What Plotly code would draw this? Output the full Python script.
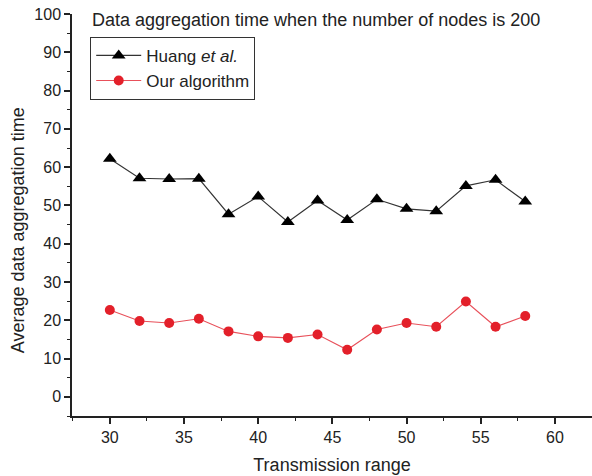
import plotly.graph_objects as go

x_range = [30, 32, 34, 36, 38, 40, 42, 44, 46, 48, 50, 52, 54, 56, 58]
huang = [62.2, 57.1, 56.9, 57.0, 47.7, 52.3, 45.7, 51.3, 46.2, 51.6, 49.1, 48.5, 55.1, 56.7, 51.0]
ours = [22.7, 19.8, 19.3, 20.4, 17.1, 15.8, 15.4, 16.3, 12.3, 17.6, 19.3, 18.3, 24.9, 18.3, 21.1]

fig = go.Figure()
fig.add_trace(go.Scatter(
    x=x_range, y=huang, mode="lines+markers", name="Huang <i>et al.</i>",
    line=dict(color="#333333", width=1.2),
    marker=dict(symbol="triangle-up", size=12, color="#000000"),
))
fig.add_trace(go.Scatter(
    x=x_range, y=ours, mode="lines+markers", name="Our algorithm",
    line=dict(color="#e8505a", width=1.1),
    marker=dict(symbol="circle", size=10, color="#e3202a"),
))

font_family = "Liberation Sans, Arial, sans-serif"
fig.update_layout(
    width=592, height=476,
    margin=dict(l=72, r=0, t=14, b=60),
    plot_bgcolor="white", paper_bgcolor="white",
    font=dict(family=font_family, size=17, color="#222222"),
    showlegend=True,
    legend=dict(
        x=0.035, y=0.943, xanchor="left", yanchor="top",
        bordercolor="#333333", borderwidth=1, bgcolor="white",
        font=dict(size=17, color="#222222"),
        tracegroupgap=0, itemwidth=45,
    ),
    xaxis=dict(
        range=[27.45, 62.5], tickvals=[30, 35, 40, 45, 50, 55, 60],
        ticks="outside", ticklen=6, tickwidth=1.5, tickcolor="#222",
        showline=True, linecolor="#222", linewidth=1.5,
        showgrid=False, zeroline=False,
        tickfont=dict(size=16),
        minor=dict(dtick=2.5, tick0=27.5, ticks="outside", ticklen=3, tickcolor="#222", tickwidth=1.2),
        title=dict(text="Transmission range", font=dict(size=18), standoff=13),
    ),
    yaxis=dict(
        range=[-5, 100], tickvals=[0, 10, 20, 30, 40, 50, 60, 70, 80, 90, 100],
        ticks="outside", ticklen=6, tickwidth=1.5, tickcolor="#222",
        showline=True, linecolor="#222", linewidth=1.5,
        showgrid=False, zeroline=False,
        tickfont=dict(size=16),
        minor=dict(dtick=5, tick0=0, ticks="outside", ticklen=3, tickcolor="#222", tickwidth=1.2),
    ),
    annotations=[
        dict(
            text="Data aggregation time when the number of nodes is 200",
            xref="paper", yref="paper", x=0.035, y=0.985, xanchor="left", yanchor="middle",
            showarrow=False, font=dict(size=18, color="#222222"),
        ),
        dict(
            text="Average data aggregation time",
            xref="paper", yref="paper", x=-0.104, y=0.462, xanchor="center", yanchor="middle",
            textangle=-90, showarrow=False, font=dict(size=18, color="#222222"),
        ),
    ],
)

fig.write_html("out.html")
